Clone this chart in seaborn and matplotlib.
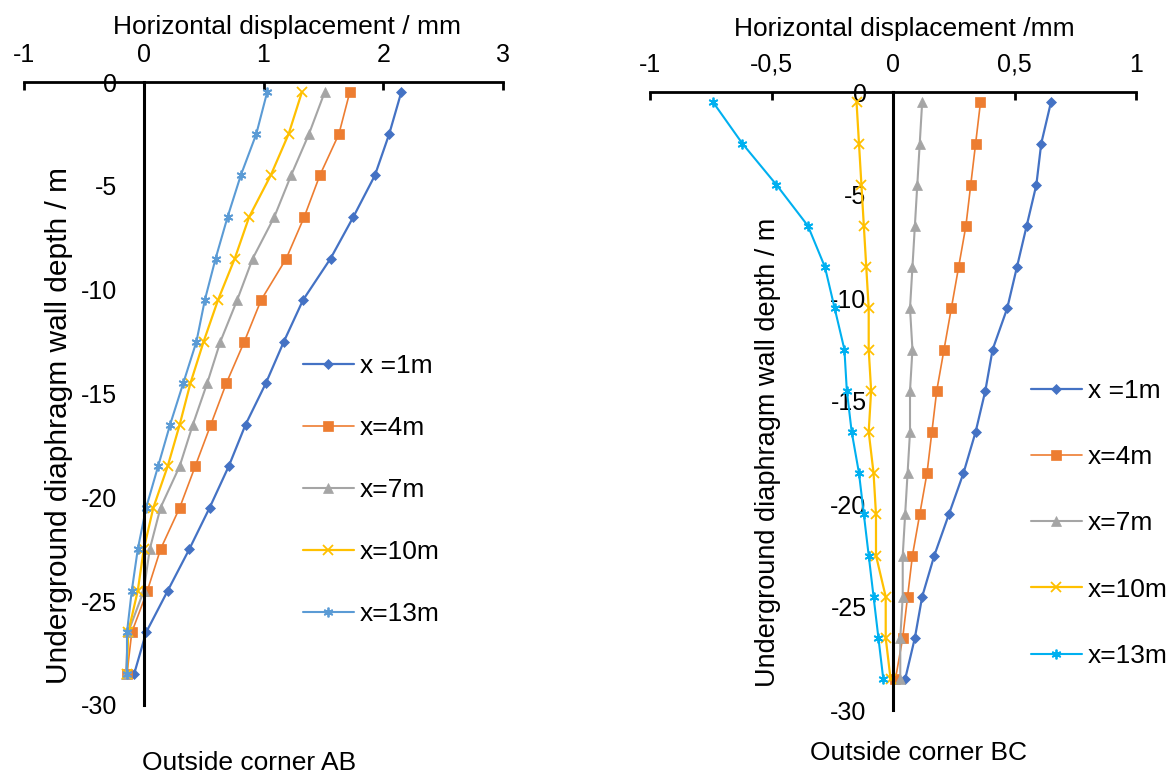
import numpy as np
import pandas as pd
import matplotlib
matplotlib.use("Agg")
import matplotlib.pyplot as plt
import seaborn as sns

# ---------------- data ----------------
depth = [-0.5, -2.5, -4.5, -6.5, -8.5, -10.5, -12.5, -14.5, -16.5, -18.5,
         -20.5, -22.5, -24.5, -26.5, -28.5]
series_labels = ["x =1m", "x=4m", "x=7m", "x=10m", "x=13m"]

ab_x1 = [2.15, 2.05, 1.93, 1.75, 1.56, 1.33, 1.17, 1.02, 0.85, 0.71, 0.55, 0.38, 0.20, 0.02, -0.08]
ab_x4 = [1.72, 1.63, 1.47, 1.34, 1.19, 0.98, 0.84, 0.69, 0.56, 0.43, 0.30, 0.14, 0.03, -0.10, -0.14]
ab_x7 = [1.51, 1.38, 1.23, 1.09, 0.91, 0.78, 0.64, 0.53, 0.41, 0.30, 0.14, 0.05, 0.00, -0.13, -0.15]
ab_x10 = [1.32, 1.21, 1.06, 0.88, 0.76, 0.62, 0.50, 0.39, 0.30, 0.20, 0.08, 0.00, -0.05, -0.13, -0.14]
ab_x13 = [1.03, 0.94, 0.81, 0.70, 0.60, 0.51, 0.44, 0.33, 0.22, 0.12, 0.02, -0.05, -0.10, -0.14, -0.14]

bc_x1 = [0.65, 0.61, 0.59, 0.55, 0.51, 0.47, 0.41, 0.38, 0.34, 0.29, 0.23, 0.17, 0.12, 0.09, 0.05]
bc_x4 = [0.36, 0.34, 0.32, 0.30, 0.27, 0.24, 0.21, 0.18, 0.16, 0.14, 0.11, 0.08, 0.06, 0.04, 0.01]
bc_x7 = [0.12, 0.11, 0.10, 0.09, 0.08, 0.07, 0.08, 0.07, 0.07, 0.06, 0.05, 0.04, 0.04, 0.03, 0.03]
bc_x10 = [-0.15, -0.14, -0.13, -0.12, -0.11, -0.10, -0.10, -0.09, -0.10, -0.08, -0.07, -0.07, -0.03, -0.03, -0.01]
bc_x13 = [-0.74, -0.62, -0.48, -0.35, -0.28, -0.24, -0.20, -0.19, -0.17, -0.14, -0.12, -0.10, -0.08, -0.06, -0.04]

ab_xticks = [-1, 0, 1, 2, 3]
ab_xticklabels = ["-1", "0", "1", "2", "3"]
bc_xticks = [-1, -0.5, 0, 0.5, 1]
bc_xticklabels = ["-1", "-0,5", "0", "0,5", "1"]
yticks = [0, -5, -10, -15, -20, -25, -30]
yticklabels = ["0", "-5", "-10", "-15", "-20", "-25", "-30"]

# ---------------- style ----------------
sns.set_theme(style="white")
plt.rcParams["font.family"] = ["Liberation Sans", "DejaVu Sans"]
plt.rcParams["text.color"] = "black"
plt.rcParams["axes.labelcolor"] = "black"
plt.rcParams["xtick.color"] = "black"
plt.rcParams["ytick.color"] = "black"

colors_ab = ["#4472C4", "#ED7D31", "#A5A5A5", "#FFC000", "#5B9BD5"]
colors_bc = ["#4472C4", "#ED7D31", "#A5A5A5", "#FFC000", "#00B0F0"]
markers = ["D", "s", "^", "x", (6, 2, 0)]
msizes = [5.5, 7, 7, 6.5, 7]
lwidths = [1.6, 1.2, 1.5, 1.6, 1.5]

fig = plt.figure(figsize=(11.74, 7.73), dpi=100)
W, H = 1174, 773


def px_axes(x0, x1, ytop, ybot):
    return fig.add_axes([x0 / W, 1 - ybot / H, (x1 - x0) / W, (ybot - ytop) / H])


ax1 = px_axes(24, 503, 82, 705)
ax2 = px_axes(650, 1136, 92, 710)


def draw(ax, xs_list, colors):
    for xs, lab, c, m, ms, lw in zip(xs_list, series_labels, colors, markers, msizes, lwidths):
        df = pd.DataFrame({"disp": xs, "depth": depth})
        sns.lineplot(data=df, x="disp", y="depth", ax=ax, sort=False, estimator=None,
                     color=c, marker=m, markersize=ms, linewidth=lw, label=lab,
                     markeredgecolor=c,
                     markeredgewidth=1.3 if (m == "x" or isinstance(m, tuple)) else 0.5)


draw(ax1, [ab_x1, ab_x4, ab_x7, ab_x10, ab_x13], colors_ab)
draw(ax2, [bc_x1, bc_x4, bc_x7, bc_x10, bc_x13], colors_bc)


def style_axes(ax, xlim, xticks, xticklabels, xlabel, xlabel_coords, ylabel_coords, ylabel_size):
    ax.set_xlim(*xlim)
    ax.set_ylim(-30, 0)
    for s in ("right", "bottom"):
        ax.spines[s].set_visible(False)
    ax.spines["top"].set_linewidth(2.0)
    ax.spines["left"].set_linewidth(2.2)
    ax.spines["top"].set_color("black")
    ax.spines["left"].set_color("black")
    ax.spines["left"].set_position(("data", 0))
    ax.xaxis.set_ticks_position("top")
    ax.xaxis.set_label_position("top")
    ax.set_xticks(xticks)
    ax.set_xticklabels(xticklabels)
    ax.set_yticks(yticks)
    ax.set_yticklabels(yticklabels)
    ax.tick_params(axis="x", direction="in", length=6, width=2, pad=11, labelsize=18, colors="black")
    ax.tick_params(axis="y", direction="in", length=6, width=2, pad=19, labelsize=18, colors="black")
    ax.set_xlabel(xlabel, fontsize=19)
    ax.xaxis.set_label_coords(*xlabel_coords)
    ax.set_ylabel("Underground diaphragm wall depth / m", fontsize=ylabel_size)
    ax.yaxis.set_label_coords(*ylabel_coords)
    ax.grid(False)
    ax.patch.set_alpha(0)


style_axes(ax1, (-1, 3), ab_xticks, ab_xticklabels, "Horizontal displacement / mm",
           (0.549, 1.077), (0.102, 0.448), 21.5)
style_axes(ax2, (-1, 1), bc_xticks, bc_xticklabels, "Horizontal displacement /mm",
           (0.523, 1.090), (0.269, 0.417), 19.5)

leg1 = ax1.legend(loc="upper left", bbox_to_anchor=(303 / W, 1 - 354 / H),
                  bbox_transform=fig.transFigure, frameon=False, fontsize=19,
                  handlelength=1.93, handletextpad=0.23, labelspacing=1.44,
                  borderpad=0, borderaxespad=0)
leg2 = ax2.legend(loc="upper left", bbox_to_anchor=(1031 / W, 1 - 379 / H),
                  bbox_transform=fig.transFigure, frameon=False, fontsize=19,
                  handlelength=1.93, handletextpad=0.23, labelspacing=1.6,
                  borderpad=0, borderaxespad=0)

fig.text(249 / W, 1 - 763 / H, "Outside corner AB", ha="center", va="center", fontsize=19)
fig.text(919 / W, 1 - 753 / H, "Outside corner BC", ha="center", va="center", fontsize=19)

fig.savefig("out.png", dpi=100)
